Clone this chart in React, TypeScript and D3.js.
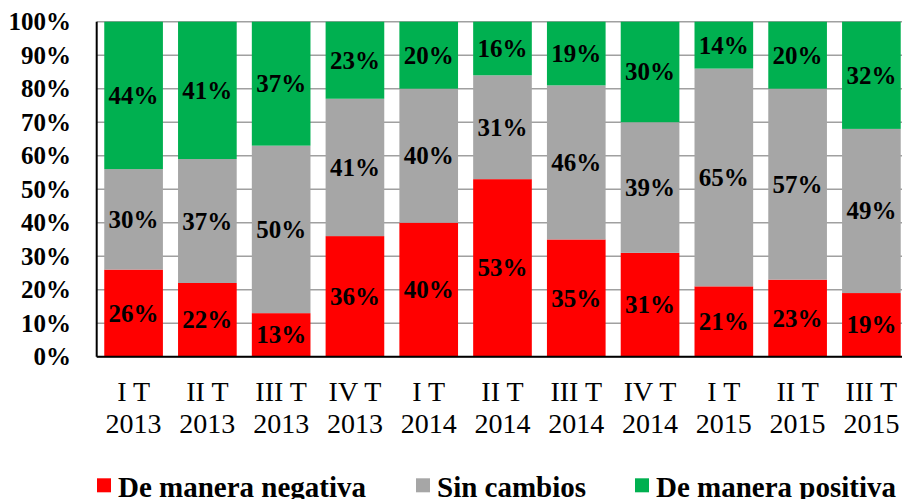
import React, { useEffect } from "react";
import * as d3 from "d3";

const categories = [
  ["I T", "2013"], ["II T", "2013"], ["III T", "2013"], ["IV T", "2013"],
  ["I T", "2014"], ["II T", "2014"], ["III T", "2014"], ["IV T", "2014"],
  ["I T", "2015"], ["II T", "2015"], ["III T", "2015"],
];
const negativa = [26, 22, 13, 36, 40, 53, 35, 31, 21, 23, 19];
const sinCambios = [30, 37, 50, 41, 40, 31, 46, 39, 65, 57, 49];
const positiva = [44, 41, 37, 23, 20, 16, 19, 30, 14, 20, 32];
const yTicks = [0, 10, 20, 30, 40, 50, 60, 70, 80, 90, 100];
const seriesNames = ["De manera negativa", "Sin cambios", "De manera positiva"];
const seriesColors = ["#FF0000", "#A6A6A6", "#00B050"];

const W = 902;
const H = 499;
const left = 96.7;
const top = 21.7;
const bottom = 356.7;
const serif = "'Liberation Serif', 'Times New Roman', serif";

export default function App() {
  useEffect(() => {
    document.body.style.margin = "0";
  }, []);

  const keys = categories.map((c) => c.join(" "));
  const x = d3
    .scaleBand<string>()
    .domain(keys)
    .range([left, left + 11 * 73.78])
    .paddingInner(0.205)
    .paddingOuter(0.1025);
  const y = d3.scaleLinear().domain([0, 100]).range([bottom, top]);

  const rows = keys.map((k, i) => ({ key: k, neg: negativa[i], sin: sinCambios[i], pos: positiva[i] }));
  const stack = d3.stack<any>().keys(["neg", "sin", "pos"])(rows);

  const legendX = [97, 416, 635];

  return (
    <svg width={W} height={H} style={{ display: "block" }} fontFamily={serif}>
      {yTicks.map((t) => (
        <line key={"g" + t} x1={left} x2={W} y1={y(t)} y2={y(t)} stroke="#A0A0A0" strokeWidth={1.5} />
      ))}
      {stack.map((s, si) => (
        <g key={si} fill={seriesColors[si]}>
          {s.map((d: any, i: number) => (
            <rect key={i} x={x(keys[i])} width={x.bandwidth()} y={y(d[1])} height={y(d[0]) - y(d[1])} />
          ))}
        </g>
      ))}
      {stack.map((s, si) => (
        <g key={"l" + si}>
          {s.map((d: any, i: number) => (
            <text
              key={i}
              x={(x(keys[i]) as number) + x.bandwidth() / 2}
              y={y((d[0] + d[1]) / 2)}
              textAnchor="middle"
              dominantBaseline="central"
              fontWeight="bold"
              fontSize={25}
              fill="#000"
            >
              {d[1] - d[0]}%
            </text>
          ))}
        </g>
      ))}
      <line x1={left} x2={left} y1={top} y2={bottom} stroke="#000" strokeWidth={2} />
      <line x1={left} x2={W} y1={bottom} y2={bottom} stroke="#000" strokeWidth={2} />
      {yTicks.map((t) => (
        <text key={"t" + t} x={71} y={y(t)} textAnchor="end" dominantBaseline="central" fontWeight="bold" fontSize={25}>
          {t}%
        </text>
      ))}
      {categories.map((c, i) => (
        <text key={"x" + i} x={(x(keys[i]) as number) + x.bandwidth() / 2} textAnchor="middle" fontSize={28}>
          <tspan x={(x(keys[i]) as number) + x.bandwidth() / 2} y={400.7}>{c[0]}</tspan>
          <tspan x={(x(keys[i]) as number) + x.bandwidth() / 2} y={433.3}>{c[1]}</tspan>
        </text>
      ))}
      {seriesNames.map((n, i) => (
        <g key={"lg" + i}>
          <rect x={legendX[i]} y={478.3} width={14} height={14} fill={seriesColors[i]} />
          <text x={legendX[i] + 21} y={496.5} fontWeight="bold" fontSize={29}>
            {n}
          </text>
        </g>
      ))}
    </svg>
  );
}
